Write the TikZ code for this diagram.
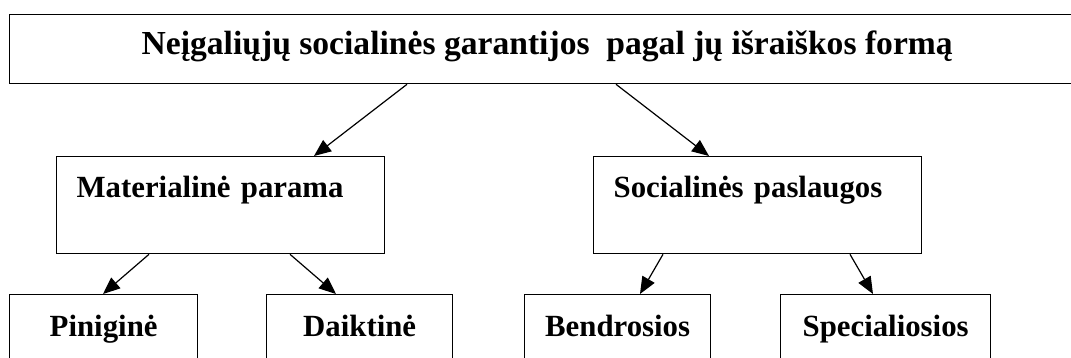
\documentclass[tikz,border=0pt]{standalone}
\usepackage{fontspec}
\setmainfont{Liberation Serif}
\usetikzlibrary{arrows.meta}
\begin{document}
\begin{tikzpicture}[x=1pt,y=-1pt,
    box/.style={draw,line width=1.3pt,inner sep=0pt,anchor=north west,
        font=\fontsize{30.8pt}{37pt}\selectfont\bfseries},
    midbox/.style={box,inner xsep=20pt,text width=288pt,align=left,text height=41pt,text depth=56pt},
    lowbox/.style={box,text height=42pt,text depth=60pt},
    link/.style={line width=1.2pt,-{Triangle[length=17pt,width=14pt]}}]
    \useasboundingbox (0,0) rectangle (1071,358);
    \clip (0,0) rectangle (1071,358);
    \node[box,font=\fontsize{33.6pt}{40pt}\selectfont\bfseries,minimum width=1075pt,text height=40pt,text depth=29pt] (top) at (9,14) {Neįgaliųjų socialinės garantijos\ \ pagal jų išraiškos formą};
    \node[midbox] (mat) at (56,156) {Materialinė parama};
    \node[midbox] (soc) at (593,156) {Socialinės paslaugos};
    \node[lowbox,minimum width=188pt] (pin) at (9,294) {Piniginė};
    \node[lowbox,minimum width=186pt] (daik) at (266,294) {Daiktinė};
    \node[lowbox,minimum width=186pt] (bend) at (524,294) {Bendrosios};
    \node[lowbox,minimum width=210pt] (spec) at (780,294) {Specialiosios};
    \draw[link] ([xshift=398pt]top.south west) -- ([xshift=258pt]mat.north west);
    \draw[link] ([xshift=607pt]top.south west) -- ([xshift=116pt]soc.north west);
    \draw[link] ([xshift=93pt]mat.south west) -- ([xshift=94pt]pin.north west);
    \draw[link] ([xshift=234pt]mat.south west) -- ([xshift=70pt]daik.north west);
    \draw[link] ([xshift=70pt]soc.south west) -- ([xshift=116pt]bend.north west);
    \draw[link] ([xshift=257pt]soc.south west) -- ([xshift=93pt]spec.north west);
\end{tikzpicture}
\end{document}
